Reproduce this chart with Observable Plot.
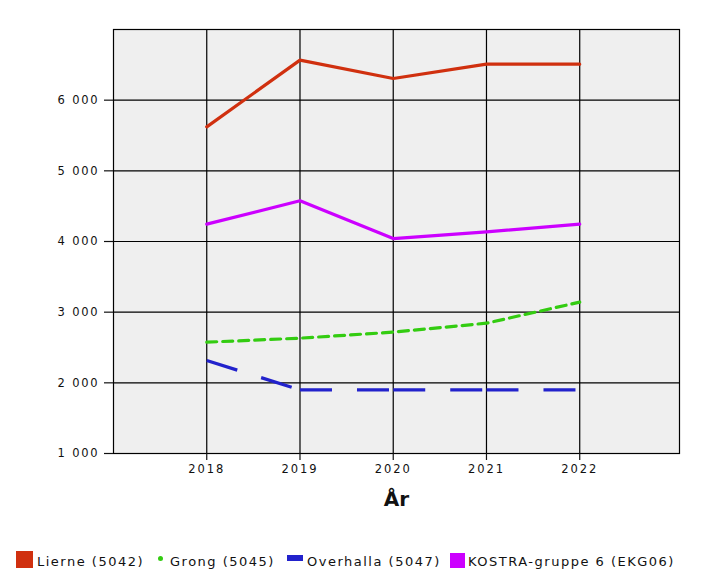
<!DOCTYPE html>
<html><head><meta charset="utf-8">
<script src="https://cdn.jsdelivr.net/npm/d3@7"></script>
<script src="https://cdn.jsdelivr.net/npm/@observablehq/plot@0.6"></script>
<style>
body{margin:0;background:#fff;font-family:"DejaVu Sans",Verdana,sans-serif;position:relative;width:712px;height:574px;overflow:hidden;}
#legend{position:absolute;left:0;top:551px;width:712px;height:20px;font-size:13px;color:#111;letter-spacing:1.5px;}
#legend .sw{position:absolute;}
#legend .tx{position:absolute;top:3px;line-height:16px;white-space:nowrap;}
</style></head><body>
<div id="chart"></div>
<div id="legend"></div>
<script>
const years = [2018, 2019, 2020, 2021, 2022];
const seriesNames = ["Lierne (5042)", "Grong (5045)", "Overhalla (5047)", "KOSTRA-gruppe 6 (EKG06)"];
const lierne = [5622, 6566, 6306, 6509, 6509];
const grong = [2575, 2632, 2717, 2844, 3142];
const overhalla = [2316, 1901, 1900, 1900, 1900];
const kostra = [4246, 4576, 4042, 4137, 4246];
const yTicks = [1000, 2000, 3000, 4000, 5000, 6000];
const colors = ["#d0300f", "#33cc11", "#2222cc", "#cc00ff"];

const fmt = d => d3.format(",")(d).replace(/,/g, " ");
const rows = (vals, name) => years.map((y, i) => ({year: y, value: vals[i], name}));
const segs = (vals) => years.slice(1).map((y, i) => ({x1: years[i], y1: vals[i], x2: y, y2: vals[i + 1]}));

const plot = Plot.plot({
  width: 712, height: 530,
  marginLeft: 113, marginRight: 33, marginTop: 29, marginBottom: 77,
  style: {fontFamily: "DejaVu Sans, Verdana, sans-serif", fontSize: "11.5px", color: "#111", background: "#fff"},
  x: {domain: [2017, 2023.07], label: null},
  y: {domain: [1000, 7000], label: null},
  marks: [
    Plot.frame({fill: "#efefef", stroke: null}),
    Plot.ruleX(years, {stroke: "#000", strokeWidth: 1.2}),
    Plot.ruleY([2000, 3000, 4000, 5000, 6000], {stroke: "#000", strokeWidth: 1.2}),
    Plot.frame({stroke: "#000", strokeWidth: 1.2}),
    Plot.axisX({ticks: years, tickFormat: d => String(d), tickSize: 7, tickPadding: 4, label: null, strokeWidth: 1.2}),
    Plot.axisY({ticks: yTicks, tickFormat: fmt, tickSize: 9, tickPadding: 5, label: null, strokeWidth: 1.2}),
    Plot.line(rows(lierne, seriesNames[0]), {x: "year", y: "value", stroke: colors[0], strokeWidth: 3.2}),
    Plot.line(rows(grong, seriesNames[1]), {x: "year", y: "value", stroke: colors[1], strokeWidth: 3.2, strokeDasharray: "10,6"}),
    Plot.link(segs(overhalla), {x1: "x1", y1: "y1", x2: "x2", y2: "y2", stroke: colors[2], strokeWidth: 3.2, strokeDasharray: "32,25"}),
    Plot.line(rows(kostra, seriesNames[3]), {x: "year", y: "value", stroke: colors[3], strokeWidth: 3.2}),
    Plot.text(["År"], {frameAnchor: "bottom", dy: 52, fontSize: 20, fontWeight: "bold", fill: "#111"})
  ]
});
d3.select(plot).selectAll('g[aria-label="y-axis tick label"] text').style("letter-spacing", "1.8px");
d3.select(plot).selectAll('g[aria-label="x-axis tick label"] text').style("letter-spacing", "1.9px");
document.getElementById("chart").appendChild(plot);

const swatches = [
  {left: 16, top: 0, w: 17, h: 17, r: 0},
  {left: 158, top: 5, w: 5, h: 5, r: 3},
  {left: 287, top: 4, w: 16, h: 6, r: 0},
  {left: 450, top: 2, w: 15, h: 15, r: 0}
];
const textLefts = [37, 170, 307, 468];
const leg = document.getElementById("legend");
seriesNames.forEach((n, i) => {
  const s = swatches[i];
  const sw = document.createElement("span"); sw.className = "sw";
  sw.style.cssText = `left:${s.left}px;top:${s.top}px;width:${s.w}px;height:${s.h}px;border-radius:${s.r}px;background:${colors[i]};`;
  leg.appendChild(sw);
  const tx = document.createElement("span"); tx.className = "tx";
  tx.style.left = textLefts[i] + "px";
  tx.textContent = n;
  leg.appendChild(tx);
});
</script>
</body></html>
